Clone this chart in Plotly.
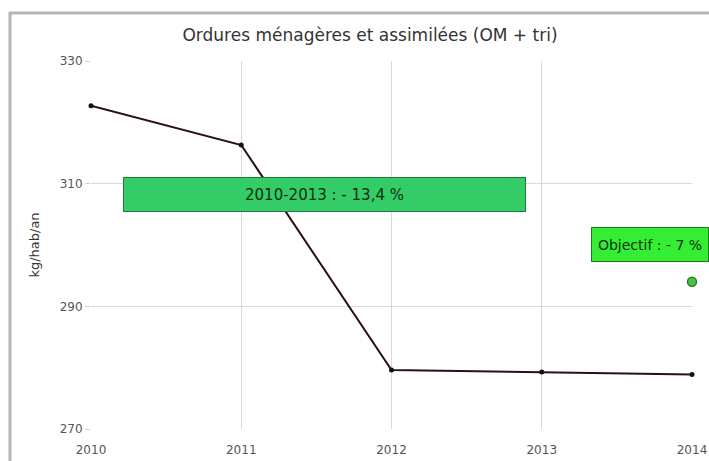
import plotly.graph_objects as go

years = [2010, 2011, 2012, 2013, 2014]
values = [322.7, 316.3, 279.6, 279.3, 278.9]
objective_year = [2014]
objective_value = [294.0]
y_ticks = [270, 290, 310, 330]

title = "Ordures ménagères et assimilées (OM + tri)"
y_title = "kg/hab/an"
label_change = "2010-2013 : - 13,4 %"
label_objective = "Objectif : - 7 %"

FONT = "DejaVu Sans, Verdana, sans-serif"

fig = go.Figure()
fig.add_trace(go.Scatter(
    x=years, y=values, mode="lines+markers",
    line=dict(color="#2a1010", width=2),
    marker=dict(color="#111111", size=5),
    cliponaxis=False, showlegend=False,
))
fig.add_trace(go.Scatter(
    x=objective_year, y=objective_value, mode="markers",
    marker=dict(color="#4cc04c", size=9, line=dict(color="#1f8a1f", width=1.5)),
    cliponaxis=False, showlegend=False,
))

W, H = 709, 461
L, R, T, B = 91, 17, 61, 32
pw, ph = W - L - R, H - T - B

def px(x):
    return (x - L) / pw

def py(y):
    return (H - B - y) / ph

fig.update_layout(
    width=W, height=H,
    margin=dict(l=L, r=R, t=T, b=B, autoexpand=False),
    paper_bgcolor="white", plot_bgcolor="white",
    font=dict(family=FONT, color="#444"),
    title=dict(text=title, x=370 / W, xanchor="center", y=1 - 35 / H, yanchor="middle",
               font=dict(size=17, color="#333", family=FONT)),
    xaxis=dict(range=[2010, 2014], tickvals=years, ticktext=[str(y) for y in years],
               showgrid=True, gridcolor="#d9d9d9", gridwidth=1, zeroline=False,
               showline=False, ticks="", ticklabelstandoff=12, automargin=False,
               tickfont=dict(size=12, color="#555", family=FONT)),
    yaxis=dict(range=[270, 330], tickvals=y_ticks, automargin=False,
               showgrid=True, gridcolor="#d9d9d9", gridwidth=1, zeroline=False,
               showline=False, ticks="outside", ticklen=5, tickcolor="#d0d0d0",
               tickfont=dict(size=12, color="#555", family=FONT),
               title=dict(text=y_title, font=dict(size=13, color="#333", family=FONT), standoff=17)),
    shapes=[
        dict(type="line", xref="paper", yref="paper", x0=px(9), x1=px(720), y0=py(13), y1=py(13),
             line=dict(color="#b5b5b5", width=3)),
        dict(type="line", xref="paper", yref="paper", x0=px(10), x1=px(10), y0=py(12), y1=py(470),
             line=dict(color="#b5b5b5", width=3)),
    ],
    annotations=[
        dict(text=label_change, xref="paper", yref="paper", x=px(324.5), y=py(194.5),
             xanchor="center", yanchor="middle", showarrow=False,
             width=401, height=33, bgcolor="#33cc66", bordercolor="#1d7a3a", borderwidth=1,
             borderpad=0, font=dict(size=15, color="#0d2f15", family=FONT)),
        dict(text=label_objective, xref="paper", yref="paper", x=px(650), y=py(244.5),
             xanchor="center", yanchor="middle", showarrow=False,
             width=116, height=33, bgcolor="#33ee33", bordercolor="#1d7a1d", borderwidth=1,
             borderpad=0, font=dict(size=14, color="#0d2f0d", family=FONT)),
    ],
)

fig.write_html("out.html", config={"displayModeBar": False},
               post_script="document.body.style.margin='0';")
